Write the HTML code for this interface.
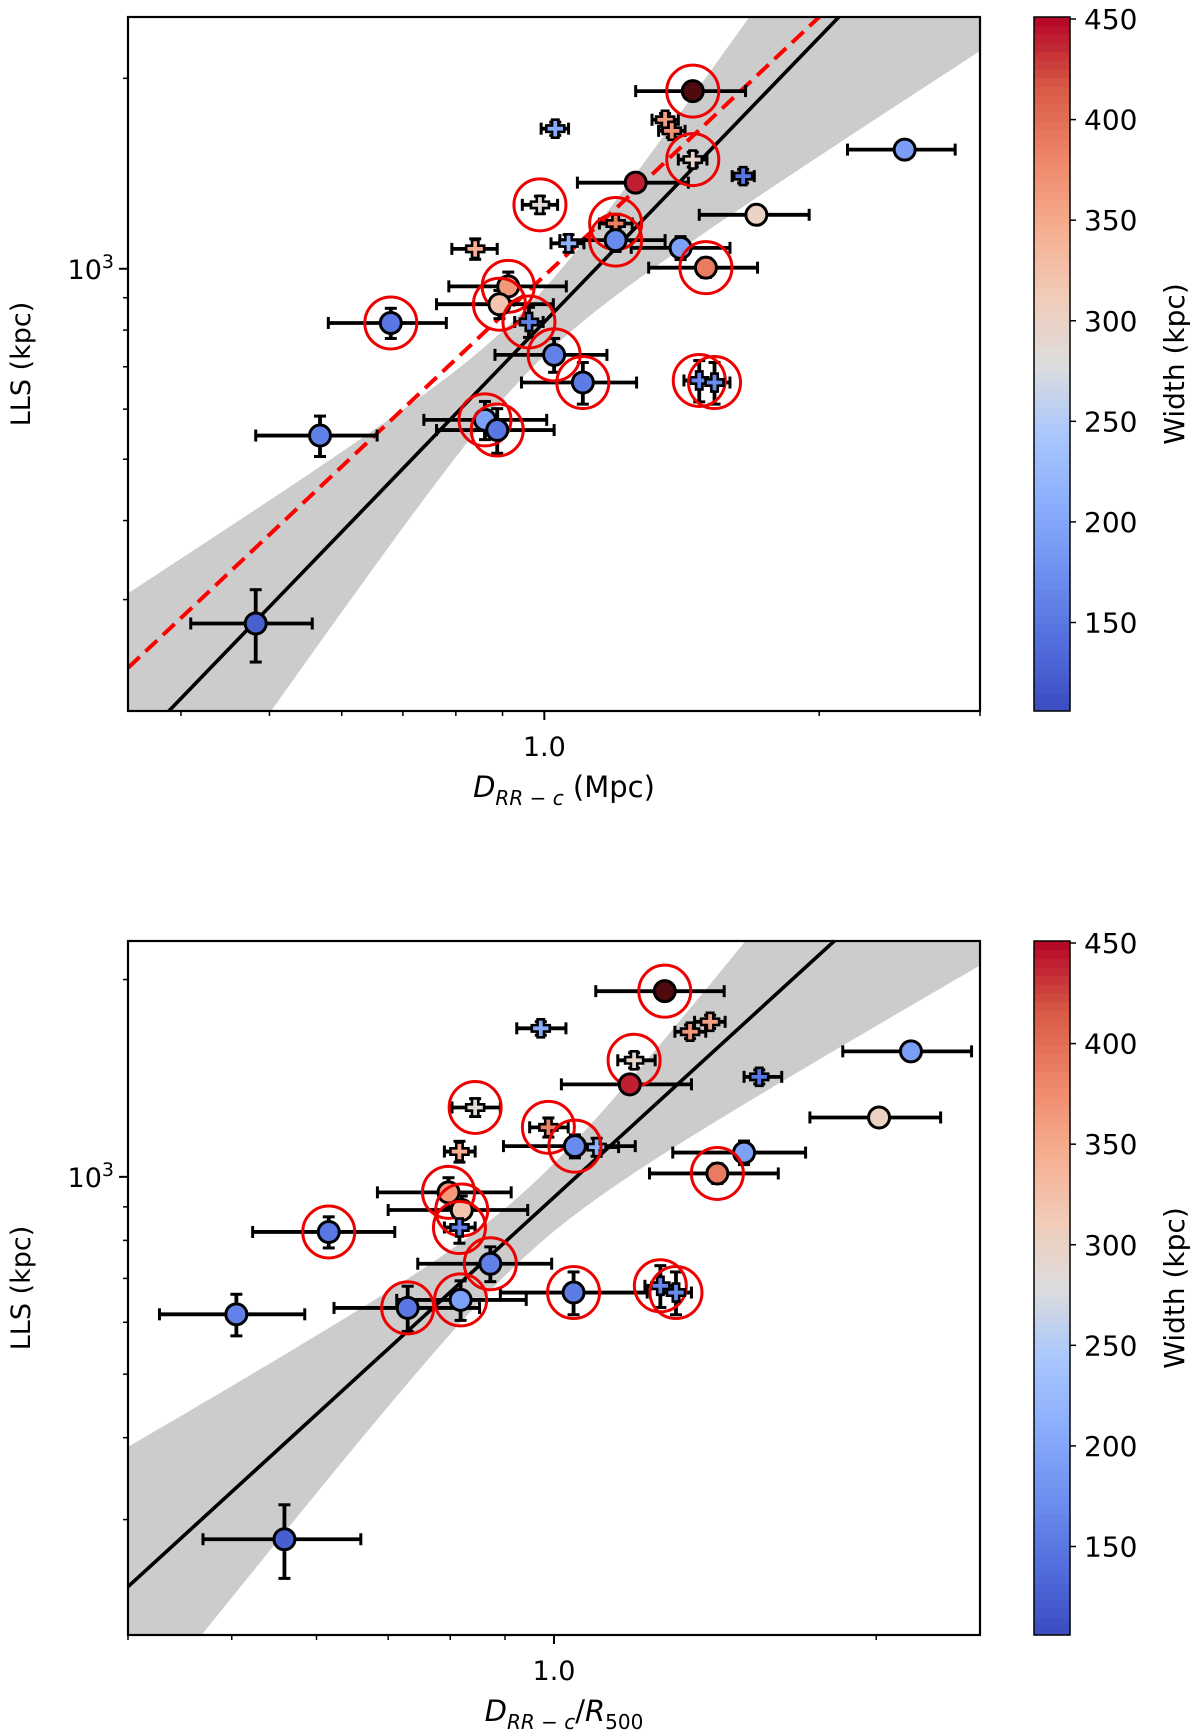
<!DOCTYPE html>
<html><head><meta charset="utf-8"><style>
html,body{margin:0;padding:0;background:#fff}
svg{display:block;font-family:"DejaVu Sans","Liberation Sans",sans-serif}
</style></head><body>
<svg id="fig" width="1200" height="1733" viewBox="0 0 1200 1733" xmlns="http://www.w3.org/2000/svg"></svg>
<script>
// ---- shared data ----
const markerType = ['c','p','p','p','p','p','c','c','p','c','p','p','p','c','c','c','c','c','p','c','c','c','p','p','c','c','c','c'];
const widthKpc = [500,205,360,370,295,150,190,440,285,300,385,345,215,170,195,390,365,320,160,150,160,155,165,170,160,195,150,125];
const ringed = [1,0,0,0,1,0,0,0,1,0,1,0,0,1,0,1,1,1,1,1,1,1,1,1,0,1,1,0];
// ---- top panel data (D_RR-c in Mpc) ----
const topX   = [1.454,1.028,1.356,1.379,1.454,1.651,2.481,1.259,0.989,1.707,1.197,0.840,1.063,1.197,1.410,1.503,0.913,0.893,0.962,0.679,1.025,1.102,1.478,1.536,0.568,0.861,0.888,0.483];
const topXlo = [1.259,0.992,1.312,1.334,1.402,1.606,2.148,1.087,0.946,1.478,1.149,0.792,1.017,1.040,1.245,1.301,0.786,0.762,0.928,0.580,0.883,0.944,1.422,1.478,0.483,0.738,0.762,0.410];
const topXhi = [1.661,1.063,1.402,1.426,1.507,1.698,2.818,1.438,1.034,1.950,1.248,0.888,1.105,1.356,1.597,1.712,1.057,1.023,0.997,0.781,1.171,1.262,1.536,1.597,0.656,1.006,1.025,0.557];
const topY   = [1909,1665,1720,1652,1488,1401,1543,1368,1262,1217,1179,1075,1097,1110,1079,1004,938,879,824,821,731,661,666,661,545,577,556,275];
const topYerr= [40,40,40,40,40,35,40,40,40,35,40,40,35,45,45,35,50,45,45,45,45,50,50,50,40,40,45,36];
// ---- bottom panel data (D_RR-c / R500) ----
const botX   = [1.269,0.972,1.399,1.340,1.188,1.555,2.155,1.177,0.844,2.012,0.988,0.816,1.096,1.046,1.505,1.421,0.797,0.820,0.816,0.616,0.872,1.043,1.257,1.300,0.505,0.818,0.730,0.560];
const botXlo = [1.094,0.923,1.353,1.297,1.147,1.505,1.861,1.016,0.803,1.734,0.949,0.790,1.048,0.897,1.291,1.228,0.684,0.700,0.790,0.523,0.746,0.891,1.216,1.257,0.428,0.713,0.623,0.470];
const botXhi = [1.442,1.026,1.445,1.386,1.243,1.632,2.455,1.344,0.891,2.297,1.031,0.844,1.149,1.191,1.718,1.620,0.912,0.945,0.844,0.710,0.995,1.222,1.300,1.344,0.585,0.942,0.852,0.660];
const botY   = [1920,1685,1724,1665,1506,1421,1554,1384,1276,1232,1190,1093,1110,1114,1089,1012,947,890,837,824,737,666,682,666,617,649,631,280];
const botYerr= [40,40,40,40,40,35,40,40,40,35,40,40,35,45,45,35,50,45,45,45,45,50,50,50,45,45,50,36];
// fit parameters: [x0, y0, slope, bandA2, bandK, bandC]
const topFit = [0.388,200,1.495,0.0027,0.5655,-0.018];
const topFitRed = [0.35,234,1.359];
const botFit = [0.4,237,1.493,0.0025,0.556,-0.025];
const cbTicks = [150,200,250,300,350,400,450];

const NS='http://www.w3.org/2000/svg';
const svg=document.getElementById('fig');
function el(tag,attrs,parent){const e=document.createElementNS(NS,tag);for(const k in attrs)e.setAttribute(k,attrs[k]);(parent||svg).appendChild(e);return e;}
const CM=[[59,76,192],[82,110,221],[109,144,241],[139,174,253],[170,199,253],[221,221,221],[242,203,183],[246,172,142],[238,133,104],[215,89,69],[180,4,38]];
function cmap(v,vmin,vmax){
  if(v>vmax)return '#4e0a0c';
  let t=(v-vmin)/(vmax-vmin);t=Math.max(0,Math.min(1,t));
  const f=t*10,i=Math.min(9,Math.floor(f)),r=f-i;
  const c=CM[i].map((a,k)=>Math.round(a+(CM[i+1][k]-a)*r));
  return 'rgb('+c.join(',')+')';
}
function panel(cfg){
  const {L,R,T,B,xmin,xmax,ymin,ymax,X,Xlo,Xhi,Y,Yerr,fit,red,id,xlabelTail}=cfg;
  const g=el('g',{});
  
  
  const sx=v=>L+(R-L)*(Math.log10(v)-Math.log10(xmin))/(Math.log10(xmax)-Math.log10(xmin));
  const sy=v=>B-(B-T)*(Math.log10(v)-Math.log10(ymin))/(Math.log10(ymax)-Math.log10(ymin));
  const clip=el('clipPath',{id:'clip-'+id},g);
  el('rect',{x:L,y:T,width:R-L,height:B-T},clip);
  const plot=el('g',{'clip-path':'url(#clip-'+id+')'},g);
  const lx0=Math.log10(xmin),lx1=Math.log10(xmax);
  const cen=lx=>Math.log10(fit[1])+fit[2]*(lx-Math.log10(fit[0]));
  const w=lx=>Math.sqrt(fit[3]+Math.pow(fit[4]*(lx-fit[5]),2));
  let up=[],lo=[];
  for(let i=0;i<=60;i++){const lx=lx0+(lx1-lx0)*i/60;const px=sx(Math.pow(10,lx));
    up.push(px.toFixed(1)+','+sy(Math.pow(10,cen(lx)+w(lx))).toFixed(1));
    lo.push(px.toFixed(1)+','+sy(Math.pow(10,cen(lx)-w(lx))).toFixed(1));}
  const band=el('polygon',{points:up.concat(lo.reverse()).join(' '),fill:'#cccccc'},plot);
  
  
  const fl=el('line',{x1:sx(xmin),y1:sy(Math.pow(10,cen(lx0))),x2:sx(xmax),y2:sy(Math.pow(10,cen(lx1))),stroke:'#000','stroke-width':3.6},plot);
  
  
  if(red){
    const rc=lx=>Math.log10(red[1])+red[2]*(lx-Math.log10(red[0]));
    const rl=el('line',{x1:sx(xmin),y1:sy(Math.pow(10,rc(lx0))),x2:sx(xmax),y2:sy(Math.pow(10,rc(lx1))),stroke:'#ff0000','stroke-width':4,'stroke-dasharray':'16,8'},plot);
    
    
  }
  for(let i=0;i<X.length;i++){
    const x=sx(X[i]),y=sy(Y[i]),x1=sx(Xlo[i]),x2=sx(Xhi[i]),y1=sy(Y[i]-Yerr[i]),y2=sy(Y[i]+Yerr[i]);
    const eg=el('g',{stroke:'#000','stroke-width':3.8,fill:'none'},plot);
    
    
    el('line',{x1:x1,y1:y,x2:x2,y2:y},eg);
    el('line',{x1:x1,y1:y-6,x2:x1,y2:y+6,'stroke-width':3},eg);
    el('line',{x1:x2,y1:y-6,x2:x2,y2:y+6,'stroke-width':3},eg);
    el('line',{x1:x,y1:y1,x2:x,y2:y2},eg);
    el('line',{x1:x-6,y1:y1,x2:x+6,y2:y1,'stroke-width':3},eg);
    el('line',{x1:x-6,y1:y2,x2:x+6,y2:y2,'stroke-width':3},eg);
  }
  for(let i=0;i<X.length;i++){
    const x=sx(X[i]),y=sy(Y[i]),col=cmap(widthKpc[i],106,451);
    let m;
    if(markerType[i]==='c'){m=el('circle',{cx:x,cy:y,r:10.5,fill:col,stroke:'#000','stroke-width':3},plot);}
    else{const a=3.2,b=9;
      const p=[[-a,-b],[a,-b],[a,-a],[b,-a],[b,a],[a,a],[a,b],[-a,b],[-a,a],[-b,a],[-b,-a],[-a,-a]].map(q=>(x+q[0])+','+(y+q[1])).join(' ');
      m=el('polygon',{points:p,fill:col,stroke:'#000','stroke-width':2.6},plot);}
    
    
    if(ringed[i]){const r=el('circle',{cx:x,cy:y,r:26,fill:'none',stroke:'#ee0000','stroke-width':3},plot);
      
      }
  }
  const fr=el('rect',{x:L,y:T,width:R-L,height:B-T,fill:'none',stroke:'#000','stroke-width':2.2},g);
  
  
  const xt=[0.3,0.4,0.5,0.6,0.7,0.8,0.9,1,2,3];
  xt.forEach(v=>{if(v<xmin-1e-9||v>xmax+1e-9)return;const x=sx(v);
    el('line',{x1:x,y1:B,x2:x,y2:B+(v===1?9:5),stroke:'#000','stroke-width':v===1?2:1.5},g);});
  const xl=el('text',{x:sx(1),y:B+45,'text-anchor':'middle','font-size':27},g);xl.textContent='1.0';
  
  
  const yt=[300,400,500,600,700,800,900,1000,2000];
  yt.forEach(v=>{if(v<ymin||v>ymax)return;const y=sy(v);
    el('line',{x1:L,y1:y,x2:L-(v===1000?9:5),y2:y,stroke:'#000','stroke-width':v===1000?2:1.5},g);});
  const yl=el('text',{x:L-14,y:sy(1000)+10,'text-anchor':'end','font-size':27},g);
  yl.innerHTML='10<tspan dy="-11" font-size="19">3</tspan>';
  
  
  const yti=el('text',{transform:'translate(30,'+((T+B)/2)+') rotate(-90)','text-anchor':'middle','font-size':27},g);
  yti.textContent='LLS (kpc)';
  
  
  const xti=el('text',{x:(L+R)/2+10,y:B+86,'text-anchor':'middle','font-size':29},g);
  xti.innerHTML='<tspan font-style="italic">D</tspan><tspan font-style="italic" font-size="20" dy="8">RR − c</tspan><tspan dy="-8">'+xlabelTail+'</tspan>';
  
  
  const cg=el('g',{},g);
  
  
  const cx0=1034,cx1=1070,steps=80;
  for(let i=0;i<steps;i++){const v0=106+(451-106)*i/steps;
    el('rect',{x:cx0,y:B-(B-T)*(i+1)/steps-0.5,width:cx1-cx0,height:(B-T)/steps+1,fill:cmap(v0+(451-106)/steps/2,106,451)},cg);}
  el('rect',{x:cx0,y:T,width:cx1-cx0,height:B-T,fill:'none',stroke:'#000','stroke-width':1.5},cg);
  cbTicks.forEach(v=>{const y=B-(B-T)*(v-106)/(451-106);
    el('line',{x1:cx1,y1:y,x2:cx1+6,y2:y,stroke:'#000','stroke-width':1.5},cg);
    const t=el('text',{x:cx1+14,y:y+10,'font-size':28},cg);t.textContent=v;
    
    });
  const ct=el('text',{transform:'translate(1184,'+((T+B)/2)+') rotate(-90)','text-anchor':'middle','font-size':28},cg);
  ct.textContent='Width (kpc)';
  
  
}
panel({id:'top',L:128,R:980,T:17,B:711,xmin:0.35,xmax:3.0,ymin:200,ymax:2500,X:topX,Xlo:topXlo,Xhi:topXhi,Y:topY,Yerr:topYerr,fit:topFit,red:topFitRed,xlabelTail:' (Mpc)'});
panel({id:'bottom',L:128,R:980,T:941,B:1635,xmin:0.4,xmax:2.5,ymin:200,ymax:2290,X:botX,Xlo:botXlo,Xhi:botXhi,Y:botY,Yerr:botYerr,fit:botFit,red:null,xlabelTail:'/<tspan font-style="italic">R</tspan><tspan font-size="20" dy="8">500</tspan>'});
</script>
</body></html>
